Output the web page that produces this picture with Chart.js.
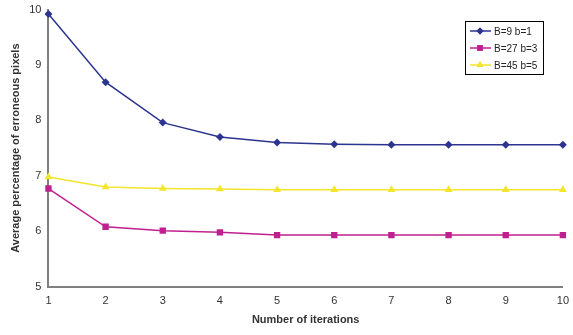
<!DOCTYPE html>
<html>
<head>
<meta charset="utf-8">
<script src="https://cdn.jsdelivr.net/npm/chart.js@4/dist/chart.umd.min.js"></script>
<style>
  html, body { margin: 0; padding: 0; background: #fff; }
  #wrap { width: 573px; height: 335px; position: relative; }
</style>
</head>
<body>
<div id="wrap"><canvas id="chart" width="573" height="335"></canvas></div>
<script>
// data
const iterations = ['1', '2', '3', '4', '5', '6', '7', '8', '9', '10'];
const seriesNames = ['B=9 b=1', 'B=27 b=3', 'B=45 b=5'];
const b9 = [9.92, 8.69, 7.96, 7.70, 7.60, 7.57, 7.56, 7.56, 7.56, 7.56];
const b27 = [6.77, 6.08, 6.01, 5.98, 5.93, 5.93, 5.93, 5.93, 5.93, 5.93];
const b45 = [6.98, 6.80, 6.77, 6.76, 6.75, 6.75, 6.75, 6.75, 6.75, 6.75];
const yTicks = [5, 6, 7, 8, 9, 10];

const colors = ['#2B3590', '#C0208F', '#F2E52A'];
const markers = ['rectRot', 'rect', 'triangle'];
const radii = [4, 4.5, 4.5];

Chart.defaults.font.family = '"Liberation Sans", Arial, sans-serif';
Chart.defaults.color = '#333';

const datasets = [b9, b27, b45].map((vals, i) => ({
    label: seriesNames[i],
    data: vals,
    borderColor: colors[i],
    backgroundColor: colors[i],
    borderWidth: 1.5,
    pointStyle: markers[i],
    pointRadius: radii[i],
    pointBorderWidth: 0,
    tension: 0
}));

// legend drawn like the spreadsheet one: line with marker, boxed
const boxLegend = {
    id: 'boxLegend',
    afterDraw(chart) {
        const c = chart.ctx;
        const x = 465, y = 21, w = 78, h = 53;
        c.save();
        c.fillStyle = '#fff';
        c.fillRect(x, y, w, h);
        c.strokeStyle = '#000';
        c.lineWidth = 1;
        c.strokeRect(x + 0.5, y + 0.5, w, h);
        c.font = '10px "Liberation Sans", Arial, sans-serif';
        c.textBaseline = 'middle';
        chart.data.datasets.forEach((ds, i) => {
            const ly = y + 10 + i * 17;
            c.strokeStyle = ds.borderColor;
            c.lineWidth = 1.5;
            c.beginPath();
            c.moveTo(x + 5, ly);
            c.lineTo(x + 26, ly);
            c.stroke();
            c.fillStyle = ds.borderColor;
            c.beginPath();
            Chart.helpers.drawPoint(c, {
                pointStyle: ds.pointStyle, radius: ds.pointRadius - 0.5, borderWidth: 0
            }, x + 15, ly);
            c.fill();
            c.fillStyle = '#222';
            c.fillText(ds.label, x + 29, ly + 1);
        });
        c.restore();
    }
};

new Chart(document.getElementById('chart').getContext('2d'), {
    type: 'line',
    data: { labels: iterations, datasets: datasets },
    options: {
        responsive: false,
        animation: false,
        layout: { padding: { top: 0, right: 1, left: 5, bottom: 4 } },
        plugins: { legend: { display: false }, tooltip: { enabled: false } },
        scales: {
            x: {
                offset: false,
                grid: { display: false, drawTicks: true, tickLength: 4, color: '#808080' },
                border: { color: '#808080', width: 2 },
                ticks: { font: { size: 11 }, padding: 4, maxRotation: 0 },
                title: { display: true, text: 'Number of iterations', font: { size: 11, weight: 'bold' }, padding: { top: 2 } }
            },
            y: {
                min: yTicks[0],
                max: yTicks[yTicks.length - 1],
                afterBuildTicks(scale) { scale.ticks = yTicks.map(v => ({ value: v })); },
                grid: { display: false, drawTicks: true, tickLength: 4, color: '#808080' },
                border: { color: '#808080', width: 2 },
                ticks: { font: { size: 11 }, padding: 3 },
                title: { display: true, text: 'Average percentage of erroneous pixels', font: { size: 11, weight: 'bold' }, padding: { bottom: 4 } }
            }
        }
    },
    plugins: [boxLegend]
});
</script>
</body>
</html>
